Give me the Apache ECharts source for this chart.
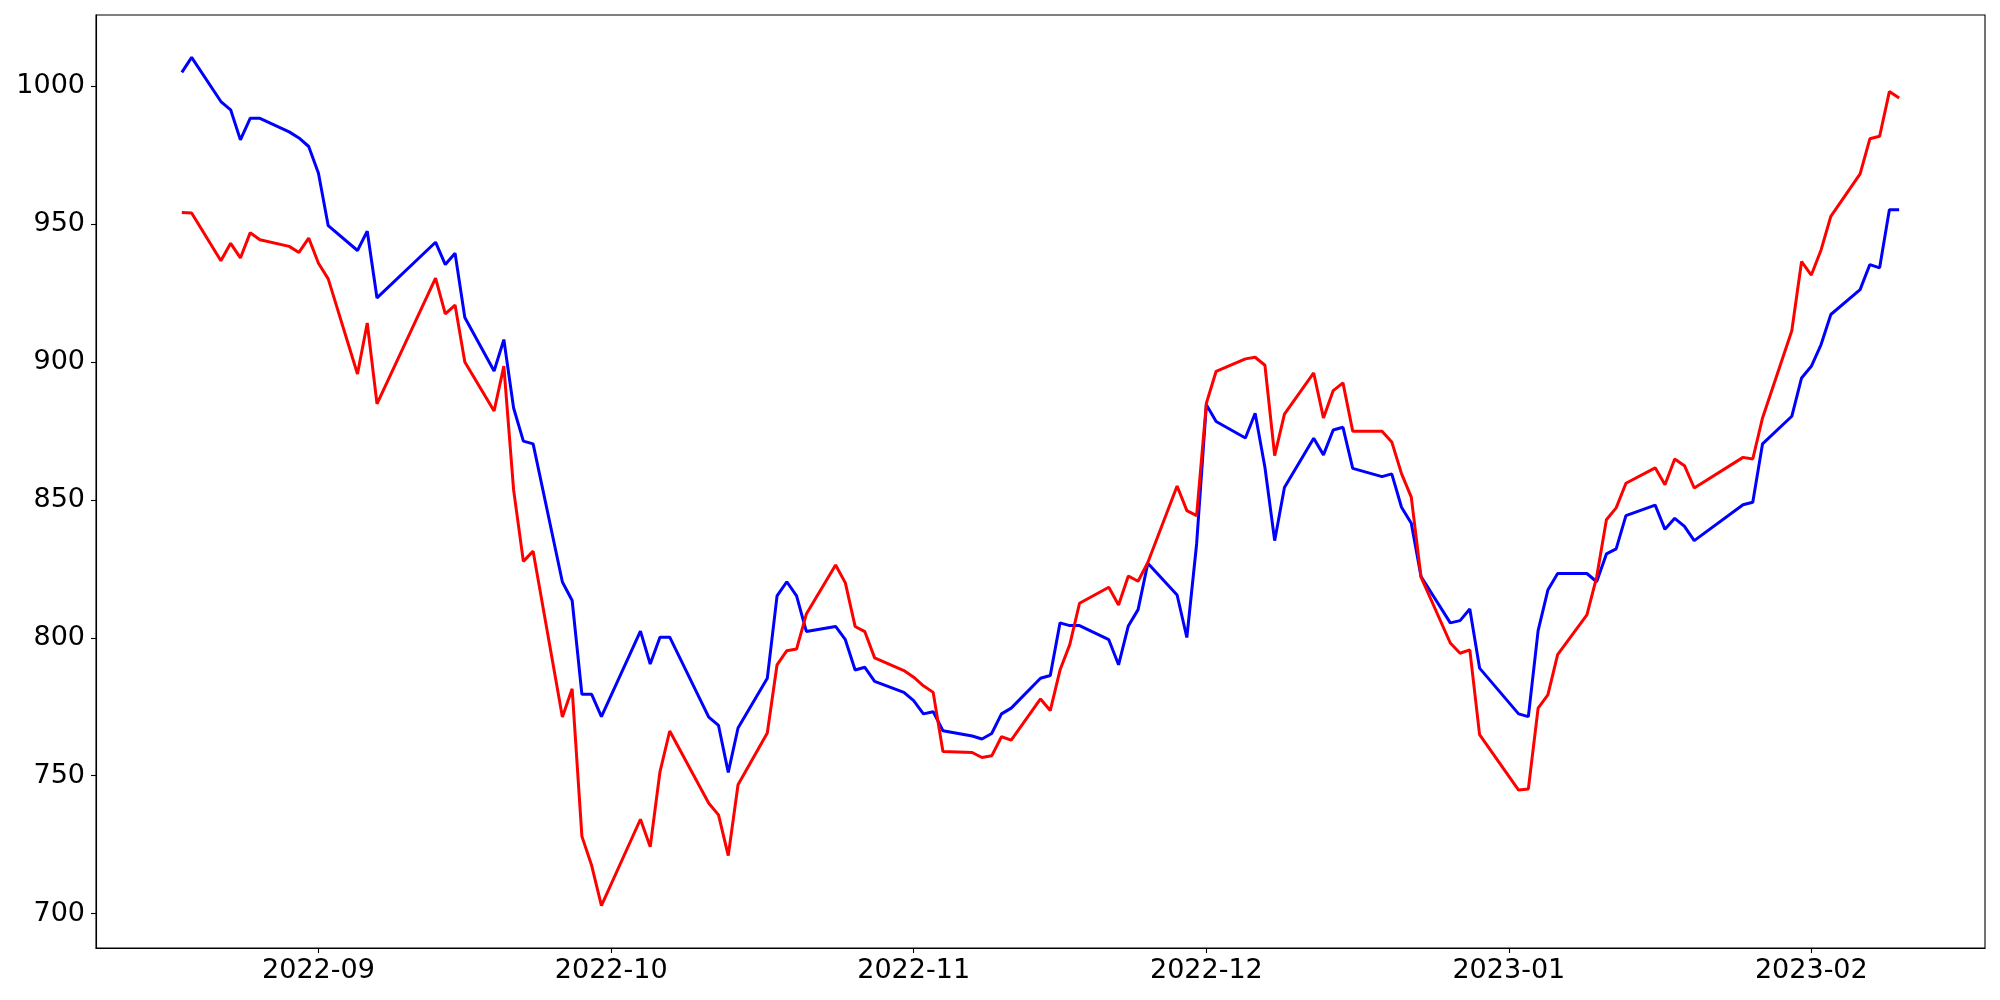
<!DOCTYPE html>
<html>
<head>
<meta charset="utf-8">
<script src="https://cdn.jsdelivr.net/npm/echarts@6/dist/echarts.min.js"></script>
<style>
html,body{margin:0;padding:0;background:#fff;}
#chart{width:2000px;height:1000px;}
</style>
</head>
<body>
<div id="chart"></div>
<script>
const dates = [
 '2022-08-18','2022-08-19','2022-08-22','2022-08-23','2022-08-24','2022-08-25','2022-08-26','2022-08-29','2022-08-30','2022-08-31',
 '2022-09-01','2022-09-02','2022-09-05','2022-09-06','2022-09-07','2022-09-13','2022-09-14','2022-09-15','2022-09-16','2022-09-19',
 '2022-09-20','2022-09-21','2022-09-22','2022-09-23','2022-09-26','2022-09-27','2022-09-28','2022-09-29','2022-09-30',
 '2022-10-04','2022-10-05','2022-10-06','2022-10-07','2022-10-11','2022-10-12','2022-10-13','2022-10-14','2022-10-17','2022-10-18',
 '2022-10-19','2022-10-20','2022-10-21','2022-10-24','2022-10-25','2022-10-26','2022-10-27','2022-10-28','2022-10-31',
 '2022-11-01','2022-11-02','2022-11-03','2022-11-04','2022-11-07','2022-11-08','2022-11-09','2022-11-10','2022-11-11','2022-11-14',
 '2022-11-15','2022-11-16','2022-11-17','2022-11-18','2022-11-21','2022-11-22','2022-11-23','2022-11-24','2022-11-25','2022-11-28',
 '2022-11-29','2022-11-30',
 '2022-12-01','2022-12-02','2022-12-05','2022-12-06','2022-12-07','2022-12-08','2022-12-09','2022-12-12','2022-12-13','2022-12-14',
 '2022-12-15','2022-12-16','2022-12-19','2022-12-20','2022-12-21','2022-12-22','2022-12-23','2022-12-26','2022-12-27','2022-12-28',
 '2022-12-29',
 '2023-01-02','2023-01-03','2023-01-04','2023-01-05','2023-01-06','2023-01-09','2023-01-10','2023-01-11','2023-01-12','2023-01-13',
 '2023-01-16','2023-01-17','2023-01-18','2023-01-19','2023-01-20','2023-01-25','2023-01-26','2023-01-27','2023-01-30','2023-01-31',
 '2023-02-01','2023-02-02','2023-02-03','2023-02-06','2023-02-07','2023-02-08','2023-02-09','2023-02-10'
];

const blueValues = [
 1005.0,1010.4,994.4,991.4,980.5,988.3,988.3,983.4,981.2,978.1,
 968.4,949.4,940.4,947.4,923.2,943.4,935.3,939.4,916.1,896.7,
 908.1,883.3,871.3,870.3,820.2,813.5,779.5,779.5,771.4,
 802.4,790.5,800.2,800.2,771.2,768.2,751.2,767.3,785.3,815.2,
 820.3,815.2,802.3,804.1,799.3,788.3,789.3,784.2,780.2,
 777.2,772.4,773.2,766.3,764.4,763.3,765.3,772.4,774.5,785.3,
 786.3,805.4,804.4,804.4,799.3,790.2,804.3,810.2,827.0,815.5,
 800.1,834.0,
 884.5,878.4,872.4,881.4,861.8,835.2,854.5,872.3,866.3,875.3,
 876.3,861.4,858.4,859.4,847.3,841.5,822.2,805.4,806.2,810.4,
 789.0,
 772.4,771.4,802.6,817.3,823.3,823.3,820.3,830.4,832.2,844.3,
 848.1,839.3,843.3,840.4,835.2,848.2,849.1,870.3,880.3,894.2,
 898.4,906.3,917.2,926.2,935.3,934.1,955.2,955.2
];

const redValues = [
 954.2,954.0,936.7,943.0,937.7,946.8,944.3,941.9,939.7,944.9,
 935.8,930.1,895.6,914.1,884.8,930.4,917.4,920.6,900.0,882.2,
 898.5,853.6,827.7,831.4,771.3,781.5,728.0,717.4,702.9,
 734.2,724.2,751.4,766.2,740.0,735.8,721.0,746.7,765.5,790.2,
 795.3,795.9,808.6,826.4,819.9,804.1,802.2,792.7,788.1,
 785.7,782.6,780.2,758.8,758.4,756.6,757.2,764.1,762.9,777.8,
 773.6,788.3,797.5,812.5,818.3,811.9,822.4,820.5,827.3,855.0,
 846.1,844.3,
 885.0,896.6,901.1,901.7,898.8,866.0,881.1,896.0,879.7,889.6,
 892.4,874.9,874.9,871.0,859.5,851.0,822.0,798.1,794.4,795.6,
 764.9,
 744.8,745.2,774.5,779.3,793.9,808.3,822.0,842.8,847.1,856.0,
 861.6,855.5,864.8,862.4,854.3,865.4,864.8,879.7,911.3,936.4,
 931.5,940.6,952.8,968.2,980.9,981.8,998.0,995.7
];

const xTickDates = ['2022-09-01','2022-10-01','2022-11-01','2022-12-01','2023-01-01','2023-02-01'];
const yTicks = [700,750,800,850,900,950,1000];

function toTime(s){ const p = s.split('-').map(Number); return Date.UTC(p[0], p[1]-1, p[2]); }
const times = dates.map(toTime);
const xTickTimes = xTickDates.map(toTime);
const tMin = Math.min(...times), tMax = Math.max(...times);
const tPad = 0.05*(tMax - tMin);
const allVals = blueValues.concat(redValues);
const vMin = Math.min(...allVals), vMax = Math.max(...allVals);
const vPad = 0.05*(vMax - vMin);

const font = 'DejaVu Sans';
const chart = echarts.init(document.getElementById('chart'), null, {renderer:'canvas'});
chart.setOption({
  animation: false,
  backgroundColor: '#fff',
  grid: {left: 96, right: 15, top: 15, bottom: 52, show: true, borderColor: '#000', borderWidth: 1.1, backgroundColor: 'transparent'},
  xAxis: {
    type: 'value',
    min: tMin - tPad,
    max: tMax + tPad,
    splitLine: {show: false},
    axisLine: {show: true, lineStyle: {color: '#000', width: 1.1}},
    axisTick: {show: true, length: 5, lineStyle: {color: '#000', width: 1.1}, customValues: xTickTimes},
    axisLabel: {
      show: true, color: '#000', fontFamily: font, fontSize: 27, margin: 9,
      customValues: xTickTimes,
      formatter: function(v){ const d = new Date(v); return d.getUTCFullYear() + '-' + String(d.getUTCMonth()+1).padStart(2,'0'); }
    }
  },
  yAxis: {
    type: 'value',
    min: vMin - vPad,
    max: vMax + vPad,
    splitLine: {show: false},
    axisLine: {show: true, lineStyle: {color: '#000', width: 1.1}},
    axisTick: {show: true, length: 5, lineStyle: {color: '#000', width: 1.1}, customValues: yTicks},
    axisLabel: {show: true, color: '#000', fontFamily: font, fontSize: 27, margin: 11, customValues: yTicks,
      formatter: function(v){ return String(Math.round(v)); }}
  },
  series: [
    {type: 'line', name: 'blue', data: times.map((t,i)=>[t, blueValues[i]]), symbol: 'none', showSymbol: false,
     lineStyle: {color: '#0000ff', width: 3}, itemStyle: {color: '#0000ff'}},
    {type: 'line', name: 'red', data: times.map((t,i)=>[t, redValues[i]]), symbol: 'none', showSymbol: false,
     lineStyle: {color: '#ff0000', width: 3}, itemStyle: {color: '#ff0000'}}
  ]
});
</script>
</body>
</html>
